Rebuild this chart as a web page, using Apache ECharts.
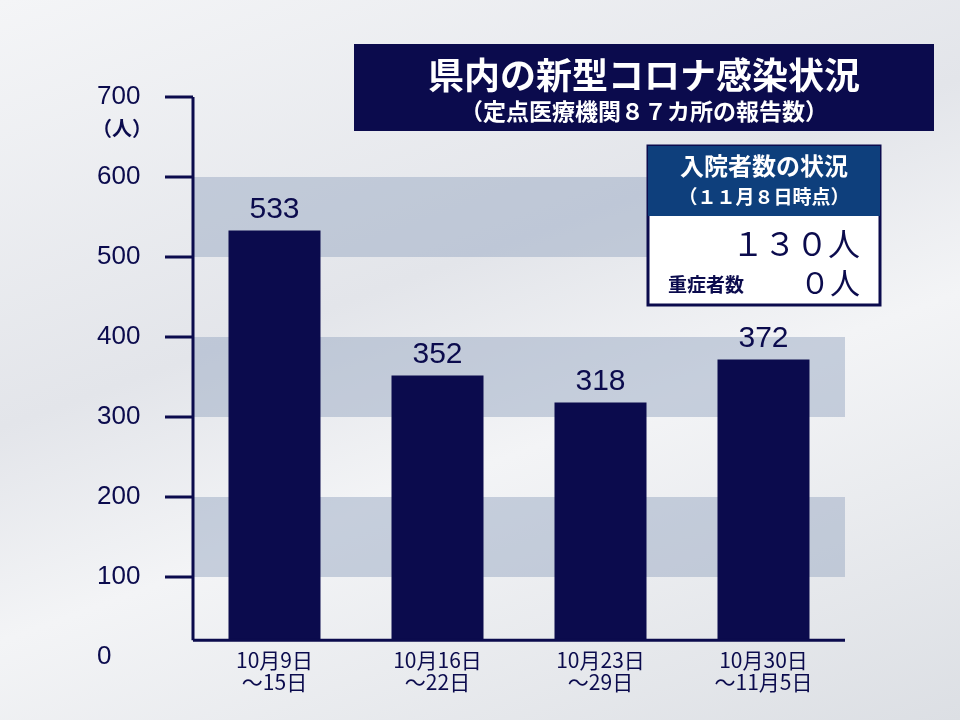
<!DOCTYPE html>
<html><head><meta charset="utf-8">
<script src="https://cdn.jsdelivr.net/npm/echarts@6/dist/echarts.min.js"></script>
<style>html,body{margin:0;padding:0;}#c{width:960px;height:720px;background:linear-gradient(160deg,#f4f5f7 0%,#e3e5ea 40%,#f3f4f6 60%,#dcdfe4 100%);}</style>
</head><body><div id="c"></div>
<script>
const categories = ['10月9日\n～15日','10月16日\n～22日','10月23日\n～29日','10月30日\n～11月5日'];
const values = [533, 352, 318, 372];
const yTicks = [0,100,200,300,400,500,600,700];
const base = 21;
const navy = '#0b0b4d';
const font = '"Noto Sans CJK JP","Noto Sans",sans-serif';
const chart = echarts.init(document.getElementById('c'));
chart.setOption({
  animation:false,
  grid:{left:193,right:115,top:97,bottom:63},
  xAxis:{type:'category',data:categories,axisLine:{show:false},axisTick:{show:false},
    axisLabel:{color:navy,fontSize:21,fontFamily:font,lineHeight:22,margin:-8}},
  yAxis:{type:'value',min:0,max:700,interval:100,splitLine:{show:false},
    axisLine:{show:false},axisTick:{show:false},
    axisLabel:{color:navy,fontSize:26,fontFamily:'"Liberation Sans",Arial',margin:96,align:'left',
      formatter:v=>yTicks.includes(v)?String(v):''}},
  series:[
    {type:'bar',stack:'s',data:values.map(()=>base),itemStyle:{color:'transparent'},barWidth:92,
     markArea:{silent:true,itemStyle:{color:'rgba(160,175,198,0.55)'},
       data:[[{yAxis:100},{yAxis:200}],[{yAxis:300},{yAxis:400}],[{yAxis:500},{yAxis:600}]]}},
    {type:'bar',stack:'s',data:values.map(v=>v-base),barWidth:92,itemStyle:{color:navy},
     label:{show:true,position:'top',color:navy,fontSize:30,fontFamily:'"Liberation Sans",Arial',
       formatter:p=>String(values[p.dataIndex]),distance:6}}
  ],
  graphic:[]
});
const gr=[];
const y0=chart.convertToPixel({yAxisIndex:0},base);
const yTop=chart.convertToPixel({yAxisIndex:0},700);
gr.push({type:'line',shape:{x1:193,y1:yTop,x2:193,y2:y0},style:{stroke:navy,lineWidth:3}});
gr.push({type:'line',shape:{x1:193,y1:y0,x2:845,y2:y0},style:{stroke:navy,lineWidth:3}});
yTicks.slice(1).forEach(t=>{const y=chart.convertToPixel({yAxisIndex:0},t);
  gr.push({type:'line',shape:{x1:165,y1:y,x2:193,y2:y},style:{stroke:navy,lineWidth:3}});});
gr.push({type:'text',left:92,top:118,style:{text:'（人）',fill:navy,fontSize:20,fontFamily:font,fontWeight:'bold'}});
gr.push({type:'rect',shape:{x:354,y:44,width:580,height:87},style:{fill:navy}});
gr.push({type:'text',x:644,y:75,style:{text:'県内の新型コロナ感染状況',fill:'#fff',fontSize:36,fontWeight:'bold',fontFamily:font,align:'center',verticalAlign:'middle'}});
gr.push({type:'text',x:644,y:111,style:{text:'（定点医療機関８７カ所の報告数）',fill:'#fff',fontSize:23,fontWeight:'bold',fontFamily:font,align:'center',verticalAlign:'middle'}});
gr.push({type:'rect',shape:{x:648,y:146,width:232,height:159},style:{fill:'#fff',stroke:navy,lineWidth:3}});
gr.push({type:'rect',shape:{x:648,y:146,width:232,height:70},style:{fill:'#0e3f7c'}});
gr.push({type:'text',x:764,y:166,style:{text:'入院者数の状況',fill:'#fff',fontSize:24,fontWeight:'bold',fontFamily:font,align:'center',verticalAlign:'middle'}});
gr.push({type:'text',x:764,y:197,style:{text:'（１１月８日時点）',fill:'#fff',fontSize:19,fontWeight:'bold',fontFamily:font,align:'center',verticalAlign:'middle'}});
gr.push({type:'text',x:860,y:244,style:{text:'１３０人',fill:navy,fontSize:32,fontFamily:font,align:'right',verticalAlign:'middle'}});
gr.push({type:'text',x:668,y:285,style:{text:'重症者数',fill:navy,fontSize:19,fontWeight:'bold',fontFamily:font,verticalAlign:'middle'}});
gr.push({type:'text',x:860,y:283,style:{text:'０人',fill:navy,fontSize:30,fontFamily:font,align:'right',verticalAlign:'middle'}});
gr.forEach(g=>{g.z=100;});
chart.setOption({graphic:gr});
</script></body></html>
